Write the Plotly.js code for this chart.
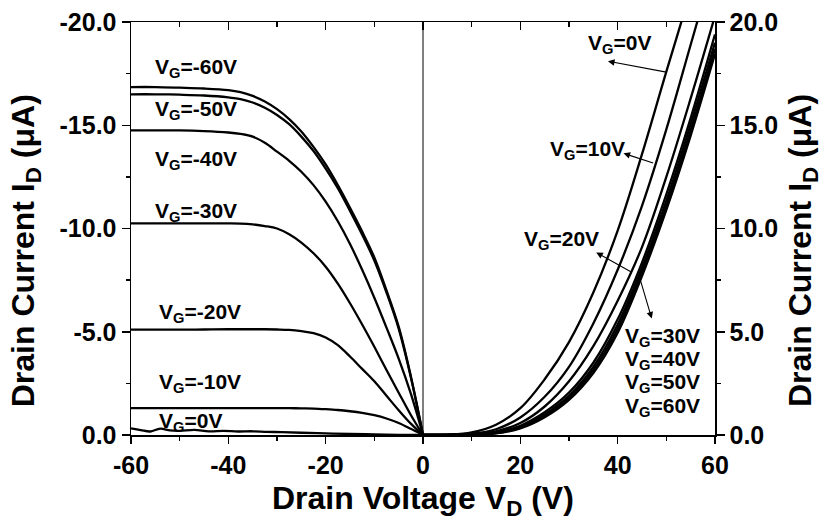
<!DOCTYPE html>
<html>
<head>
<meta charset="utf-8">
<script src="https://cdn.plot.ly/plotly-3.0.1.min.js"></script>
<style>html,body{margin:0;padding:0;background:#fff;}#chart{width:828px;height:523px;}</style>
</head>
<body>
<div id="chart"></div>
<script>
// ---- data: drain voltage (V) and drain current (uA) ----
const vdNeg = [-60,-55,-50,-45,-40,-37.5,-35,-32.5,-30,-27.5,-25,-22.5,-20,-17.5,-15,-12.5,-10,-7.5,-5,-2.5,0];
const idVgM60 = [-16.85,-16.85,-16.82,-16.78,-16.7,-16.6,-16.42,-16.15,-15.78,-15.3,-14.7,-13.95,-13.1,-12.1,-11.0,-9.85,-8.6,-7.0,-5.25,-2.85,0];
const idVgM50 = [-16.5,-16.5,-16.48,-16.44,-16.35,-16.27,-16.1,-15.85,-15.5,-15.05,-14.45,-13.75,-12.9,-11.95,-10.85,-9.7,-8.45,-6.9,-5.15,-2.8,0];
const idVgM40 = [-14.75,-14.75,-14.75,-14.72,-14.65,-14.58,-14.45,-14.15,-13.72,-13.28,-12.75,-12.1,-11.3,-10.35,-9.25,-8.0,-6.65,-5.2,-3.7,-2.0,0];
const idVgM30 = [-10.25,-10.25,-10.25,-10.25,-10.25,-10.24,-10.2,-10.12,-10.0,-9.72,-9.32,-8.8,-8.15,-7.33,-6.38,-5.35,-4.27,-3.15,-2.05,-0.97,0];
const idVgM20 = [-5.1,-5.1,-5.1,-5.11,-5.12,-5.12,-5.12,-5.12,-5.11,-5.09,-5.03,-4.93,-4.72,-4.35,-3.8,-3.2,-2.6,-1.9,-1.2,-0.55,0];
const idVgM10 = [-1.3,-1.3,-1.3,-1.3,-1.3,-1.3,-1.3,-1.3,-1.3,-1.3,-1.29,-1.28,-1.25,-1.21,-1.15,-1.07,-0.96,-0.8,-0.58,-0.3,0];
const vdNegVg0 = [-60,-58,-56,-54,-52,-50,-47,-44,-41,-38,-35,-32,-29,-25,-20,-15,-10,-5,0];
const idVgNeg0 = [-0.32,-0.24,-0.17,-0.31,-0.22,-0.2,-0.25,-0.18,-0.2,-0.17,-0.18,-0.15,-0.14,-0.11,-0.08,-0.05,-0.03,-0.01,0];

const vdPos = [0,5,10,15,20,25,30,35,40,45,50,55,60];
const idVgP0  = [0,0.02,0.13,0.5,1.3,2.7,4.5,6.9,9.9,13.6,17.6,21.5,25.5];
const idVgP10 = [0,0.01,0.06,0.28,0.85,1.85,3.3,5.4,8.0,11.1,14.8,18.9,23.0];
const idVgP20 = [0,0.01,0.04,0.18,0.58,1.38,2.6,4.3,6.5,9.1,12.5,16.3,20.3];
const idVgP30 = [0,0.005,0.03,0.13,0.45,1.1,2.05,3.5,5.6,8.35,11.65,15.35,19.4];
const idVgP40 = [0,0.005,0.02,0.1,0.4,1.0,1.9,3.3,5.35,8.1,11.35,15.05,19.0];
const idVgP50 = [0,0.005,0.02,0.09,0.36,0.92,1.8,3.15,5.15,7.9,11.1,14.75,18.7];
const idVgP60 = [0,0.005,0.02,0.08,0.32,0.86,1.7,3.0,4.95,7.7,10.9,14.5,18.45];

// ---- ticks ----
const xTickVals = [-60,-40,-20,0,20,40,60];
const xTickText = ['-60','-40','-20','0','20','40','60'];
const xMinorVals = [-50,-30,-10,10,30,50];
const yLeftTickVals = [0,-5,-10,-15,-20];
const yLeftTickText = ['0.0','-5.0','-10.0','-15.0','-20.0'];
const yLeftMinorVals = [-2.5,-7.5,-12.5,-17.5];
const yRightTickVals = [0,5,10,15,20];
const yRightTickText = ['0.0','5.0','10.0','15.0','20.0'];
const yRightMinorVals = [2.5,7.5,12.5,17.5];

// ---- labels ----
const leftLabels = ['V<sub>G</sub>=-60V','V<sub>G</sub>=-50V','V<sub>G</sub>=-40V','V<sub>G</sub>=-30V','V<sub>G</sub>=-20V','V<sub>G</sub>=-10V','V<sub>G</sub>=0V'];
const leftLabelX = [-55.5,-55.5,-55.5,-55.5,-54.7,-54.7,-54.7];
const leftLabelY = [-17.76,-15.72,-13.3,-10.78,-5.89,-2.5,-0.65];
const rightLabels = ['V<sub>G</sub>=0V','V<sub>G</sub>=10V','V<sub>G</sub>=20V','V<sub>G</sub>=30V','V<sub>G</sub>=40V','V<sub>G</sub>=50V','V<sub>G</sub>=60V'];
const rightLabelX = [33.4,25.6,20.3,41.0,41.0,41.0,41.0];
const rightLabelY = [18.93,13.78,9.42,4.77,3.61,2.5,1.38];
// arrows: tail (ax,ay) -> head (x,y)
const arrowTailX = [50.3,47.6,43.0,44.5];
const arrowTailY = [17.56,13.15,7.87,7.63];
const arrowHeadX = [38.0,41.2,35.6,47.0];
const arrowHeadY = [18.1,13.64,8.84,5.64];

const FONT = 'Liberation Sans, Arial, Helvetica, sans-serif';
const lineStyle = {color:'black', width:2.3, shape:'spline', smoothing:1};

const leftSeries = [
  [vdNeg, idVgM60], [vdNeg, idVgM50], [vdNeg, idVgM40], [vdNeg, idVgM30],
  [vdNeg, idVgM20], [vdNeg, idVgM10], [vdNegVg0, idVgNeg0]
];
const rightSeries = [
  [vdPos, idVgP0], [vdPos, idVgP10], [vdPos, idVgP20], [vdPos, idVgP30],
  [vdPos, idVgP40], [vdPos, idVgP50], [vdPos, idVgP60]
];

const traces = [];
leftSeries.forEach(function(s){
  traces.push({x:s[0], y:s[1], xaxis:'x', yaxis:'y', mode:'lines', line:lineStyle, hoverinfo:'skip', showlegend:false});
});
rightSeries.forEach(function(s){
  traces.push({x:s[0], y:s[1], xaxis:'x', yaxis:'y2', mode:'lines', line:lineStyle, hoverinfo:'skip', showlegend:false});
});
// empty trace so that the top mirror axis exists
traces.push({x:[], y:[], xaxis:'x2', yaxis:'y2', mode:'lines', hoverinfo:'skip', showlegend:false});

const tickFont = {family:FONT, size:25, color:'black', weight:'bold'};
const labFont = {family:FONT, size:21, color:'black', weight:'bold'};
const titleFont = {family:FONT, size:32, color:'black', weight:'bold'};

const annotations = [];
leftLabels.forEach(function(t,i){
  annotations.push({text:t, x:leftLabelX[i], y:leftLabelY[i], xref:'x', yref:'y', xanchor:'left', yanchor:'middle', showarrow:false, font:labFont});
});
rightLabels.forEach(function(t,i){
  annotations.push({text:t, x:rightLabelX[i], y:rightLabelY[i], xref:'x', yref:'y2', xanchor:'left', yanchor:'middle', showarrow:false, font:labFont});
});
arrowHeadX.forEach(function(hx,i){
  annotations.push({text:'', x:hx, y:arrowHeadY[i], ax:arrowTailX[i], ay:arrowTailY[i], xref:'x', yref:'y2', axref:'x', ayref:'y2', showarrow:true, arrowhead:2, arrowsize:1.2, arrowwidth:1.1, arrowcolor:'black'});
});
// axis titles
annotations.push({text:'Drain Voltage V<sub>D</sub> (V)', xref:'paper', yref:'paper', x:0.5, y:-0.158, xanchor:'center', yanchor:'middle', showarrow:false, font:titleFont});
annotations.push({text:'Drain Current I<sub>D</sub> (\u03bcA)', xref:'paper', yref:'paper', x:-0.18, y:0.447, xanchor:'center', yanchor:'middle', textangle:-90, showarrow:false, font:titleFont});
annotations.push({text:'Drain Current I<sub>D</sub> (\u03bcA)', xref:'paper', yref:'paper', x:1.15, y:0.447, xanchor:'center', yanchor:'middle', textangle:-90, showarrow:false, font:titleFont});

const layout = {
  width:828, height:523,
  margin:{l:131, r:113, t:22, b:88, pad:0},
  paper_bgcolor:'white', plot_bgcolor:'white',
  showlegend:false,
  xaxis:{range:[-60,60], autorange:false, showline:true, linecolor:'black', linewidth:1.5,
    ticks:'outside', ticklen:7, tickwidth:1.5, tickcolor:'black',
    tickmode:'array', tickvals:xTickVals, ticktext:xTickText, tickfont:tickFont,
    minor:{tickmode:'array', tickvals:xMinorVals, ticks:'outside', ticklen:4, tickwidth:1.5, tickcolor:'black', showgrid:false},
    showgrid:false, zeroline:false, anchor:'y'},
  xaxis2:{range:[-60,60], autorange:false, overlaying:'x', side:'top', anchor:'y2', showline:true, linecolor:'black', linewidth:1.5,
    ticks:'inside', ticklen:8, tickwidth:1.5, tickcolor:'black', tickmode:'array', tickvals:xTickVals, showticklabels:false,
    minor:{tickmode:'array', tickvals:xMinorVals, ticks:'inside', ticklen:5, tickwidth:1.5, tickcolor:'black', showgrid:false},
    showgrid:false, zeroline:false},
  yaxis:{range:[0,-20], autorange:false, side:'left', showline:true, linecolor:'black', linewidth:1.5,
    ticks:'outside', ticklen:8, tickwidth:1.5, tickcolor:'black',
    tickmode:'array', tickvals:yLeftTickVals, ticktext:yLeftTickText, tickfont:tickFont,
    minor:{tickmode:'array', tickvals:yLeftMinorVals, ticks:'outside', ticklen:4, tickwidth:1.5, tickcolor:'black', showgrid:false},
    showgrid:false, zeroline:false, anchor:'x'},
  yaxis2:{range:[0,20], autorange:false, overlaying:'y', side:'right', anchor:'x', showline:true, linecolor:'black', linewidth:1.5,
    ticks:'outside', ticklen:8, tickwidth:1.5, tickcolor:'black',
    tickmode:'array', tickvals:yRightTickVals, ticktext:yRightTickText, tickfont:tickFont,
    minor:{tickmode:'array', tickvals:yRightMinorVals, ticks:'outside', ticklen:4, tickwidth:1.5, tickcolor:'black', showgrid:false},
    showgrid:false, zeroline:false},
  shapes:[{type:'line', xref:'x', yref:'paper', x0:0, x1:0, y0:0, y1:1, line:{color:'black', width:1}}],
  annotations:annotations
};

Plotly.newPlot('chart', traces, layout, {staticPlot:true, displayModeBar:false});
</script>
</body>
</html>
